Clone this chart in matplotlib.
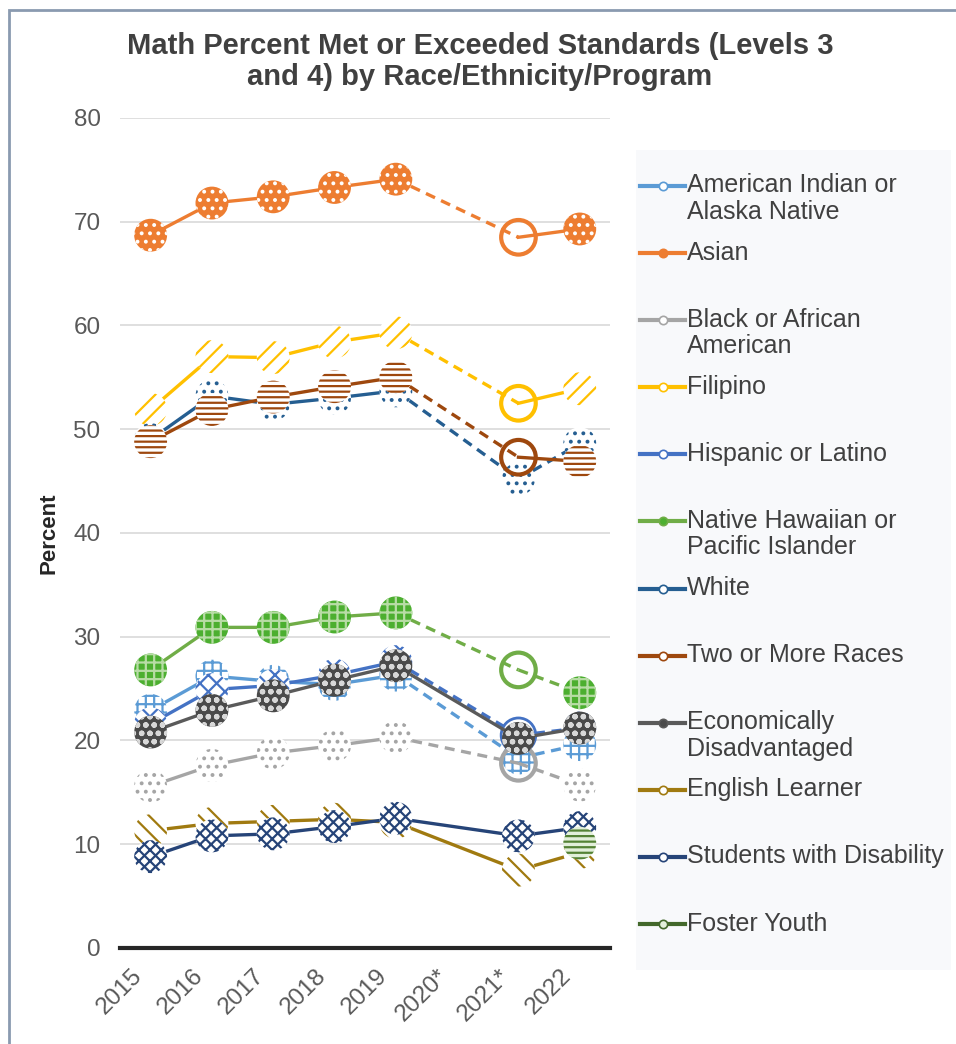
import numpy as np
import matplotlib
matplotlib.use("Agg")
import matplotlib.pyplot as plt
import matplotlib.transforms as mtransforms
from matplotlib.lines import Line2D
from matplotlib.patches import Rectangle

plt.rcParams["font.family"] = ["Liberation Sans", "DejaVu Sans"]
plt.rcParams["hatch.linewidth"] = 1.6

years = ["2015", "2016", "2017", "2018", "2019", "2020*", "2021*", "2022"]
nan = np.nan

groups = [
    "American Indian or\nAlaska Native", "Asian", "Black or African\nAmerican",
    "Filipino", "Hispanic or Latino", "Native Hawaiian or\nPacific Islander",
    "White", "Two or More Races", "Economically\nDisadvantaged",
    "English Learner", "Students with Disability", "Foster Youth",
]

aian = [22.9, 26.2, 25.7, 25.4, 26.3, nan, 18.3, 19.6]
asian = [68.7, 71.8, 72.4, 73.3, 74.1, nan, 68.5, 69.3]
black = [15.6, 17.6, 18.8, 19.5, 20.3, nan, 17.8, 15.7]
filipino = [51.9, 57.0, 56.9, 58.4, 59.3, nan, 52.5, 53.9]
hispanic = [21.6, 24.9, 25.3, 26.3, 27.6, nan, 20.5, 21.2]
nhpi = [26.8, 30.9, 30.9, 31.9, 32.3, nan, 26.8, 24.6]
white = [49.0, 53.2, 52.4, 53.0, 53.7, nan, 45.2, 48.6]
two_more = [48.8, 51.9, 53.1, 54.1, 55.0, nan, 47.3, 46.9]
econ = [20.8, 22.9, 24.3, 25.8, 27.2, nan, 20.2, 21.2]
el = [11.3, 12.0, 12.2, 12.4, 12.1, nan, 7.5, 9.2]
swd = [8.8, 10.8, 11.0, 11.7, 12.5, nan, 10.8, 11.6]
foster = [nan, nan, nan, nan, nan, nan, nan, 10.1]

values = [aian, asian, black, filipino, hispanic, nhpi,
          white, two_more, econ, el, swd, foster]

colors = ["#5b9bd5", "#ed7d31", "#a5a5a5", "#ffc000", "#4472c4", "#70ad47",
          "#255e91", "#9e480e", "#5a5a5a", "#a07a10", "#264478", "#43682b"]

# marker styles: (face, hatch colour, hatch)
patterns = [
    ("white", "#5b9bd5", "++"),
    ("#ed7d31", "white", ".."),
    ("white", "#a5a5a5", ".."),
    ("white", "#ffc000", "//"),
    ("white", "#4472c4", "xx"),
    ("#4caf30", "#b8dca6", "++"),
    ("white", "#255e91", ".."),
    ("white", "#9e480e", "---"),
    ("#4a4a4a", "#d8d8d8", "oo"),
    ("white", "#a07a10", "\\\\"),
    ("white", "#264478", "xxx"),
    ("#e2efda", "#548235", "---"),
]

# line style of 2019->2021 and 2021->2022 segments
gap_style = ["--", "--", "--", "--", "--", "--", "--", "--", "-", "-", "-", "-"]
last_style = ["--", "-", "--", "-", "--", "--", "--", "-", "-", "-", "-", "-"]
# open circle at 2021
open_2021 = [False, True, True, True, True, True, False, True, False, False, False, False]

fig = plt.figure(figsize=(9.56, 10.44), dpi=100)
fig.patch.set_facecolor("white")

# outer frame and legend background
fig.add_artist(Rectangle((0.0095, -0.01), 1.1, 1.0, transform=fig.transFigure,
                         facecolor="none", edgecolor="#8a9ab0", linewidth=2))
fig.add_artist(Rectangle((0.665, 0.071), 0.33, 0.785, transform=fig.transFigure,
                         facecolor="#f8f9fb", edgecolor="none", zorder=0))

ax = fig.add_axes([0.1255, 0.092, 0.513, 0.795])
ax.set_facecolor("none")
x = np.arange(len(years))

for i, vals in enumerate(values):
    v = np.array(vals, dtype=float)
    c = colors[i]
    z = 3 + i
    ax.plot(x[:5], v[:5], color=c, lw=2.4, zorder=z, solid_capstyle="round")
    if not np.isnan(v[4]) and not np.isnan(v[6]):
        ax.plot([x[4], x[6]], [v[4], v[6]], color=c, lw=2.4, ls=gap_style[i],
                dashes=(3, 2) if gap_style[i] == "--" else (None, None), zorder=z)
        ax.plot([x[6], x[7]], [v[6], v[7]], color=c, lw=2.4, ls=last_style[i],
                dashes=(3, 2) if last_style[i] == "--" else (None, None), zorder=z)
    face, hc, hatch = patterns[i]
    idx = [0, 1, 2, 3, 4, 7]
    if not open_2021[i]:
        idx.append(6)
    pts = [k for k in idx if not np.isnan(v[k])]
    ax.scatter(x[pts], v[pts], s=560, facecolor=face, edgecolor=hc, hatch=hatch,
               linewidth=0, zorder=z + 0.5)
    if open_2021[i] and not np.isnan(v[6]):
        ax.scatter([x[6]], [v[6]], s=620, facecolor="none", edgecolor=c,
                   linewidth=3 if i != 4 else 2, zorder=z + 0.5)

ax.set_xlim(-0.5, 7.5)
ax.set_ylim(0, 80)
ax.set_yticks(np.arange(0, 81, 10))
ax.set_xticks(x)
ax.set_xticklabels(years, rotation=45, ha="right", rotation_mode="anchor")
ax.tick_params(axis="both", length=0, colors="#595959", labelsize=17.5)
ax.tick_params(axis="x", pad=12)
ax.tick_params(axis="y", pad=14)
shift = mtransforms.ScaledTranslation(-0.2, 0, fig.dpi_scale_trans)
for lab in ax.get_xticklabels():
    lab.set_transform(lab.get_transform() + shift)
ax.grid(axis="y", color="#d9d9d9", lw=1.2, zorder=0)
ax.set_axisbelow(True)
for s in ["top", "right", "left"]:
    ax.spines[s].set_visible(False)
ax.spines["bottom"].set_color("#262626")
ax.spines["bottom"].set_linewidth(3)
ax.set_ylabel("Percent", fontsize=16, fontweight="bold", color="#262626", labelpad=10)

fig.text(0.502, 0.9415, "Math Percent Met or Exceeded Standards (Levels 3\nand 4) by Race/Ethnicity/Program",
         ha="center", va="center", fontsize=21, fontweight="bold", color="#404040",
         linespacing=1.13)

# legend drawn by hand: first text line of each entry on an even step
H = 1044.0
for i, name in enumerate(groups):
    yp = 1 - (186 + 67.1 * i) / H
    face, hc, hatch = patterns[i]
    fig.add_artist(Line2D([0.669, 0.717], [yp, yp], transform=fig.transFigure,
                          color=colors[i], lw=3))
    fig.add_artist(Line2D([0.693], [yp], transform=fig.transFigure, marker="o",
                          ms=6, mfc=face, mec=colors[i], mew=1.2, lw=0))
    fig.text(0.719, yp + 12.5 / H, name, ha="left", va="top", fontsize=18,
             color="#404040", linespacing=1.12)

fig.savefig("out.png", dpi=100)
